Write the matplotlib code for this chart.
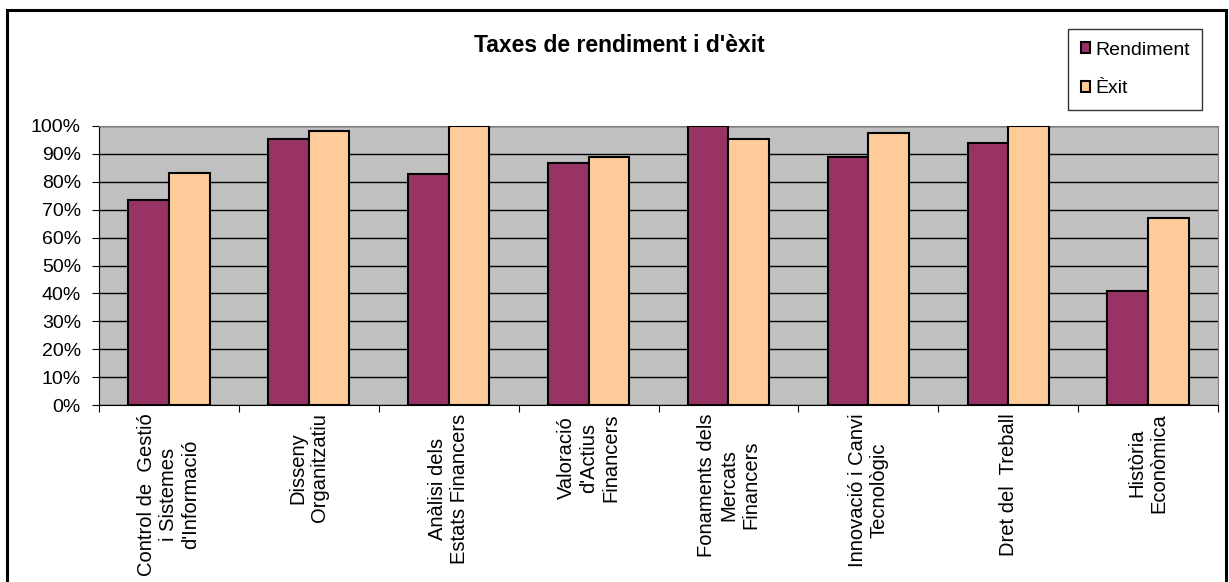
import numpy as np
import matplotlib
matplotlib.use("Agg")
import matplotlib.pyplot as plt
from matplotlib.patches import Rectangle
from matplotlib.ticker import FuncFormatter, MultipleLocator, FixedLocator

plt.rcParams["font.family"] = ["Liberation Sans", "DejaVu Sans"]

categories = [
    "Control de  Gestió\ni Sistemes\nd'Informació",
    "Disseny\nOrganitzatiu",
    "Anàlisi dels\nEstats Financers",
    "Valoració\nd'Actius\nFinancers",
    "Fonaments dels\nMercats\nFinancers",
    "Innovació i Canvi\nTecnològic",
    "Dret del  Treball",
    "Història\nEconòmica",
]
rendiment = [73.4, 95.2, 82.8, 86.6, 100.0, 89.0, 94.0, 41.0]
exit_ = [83.1, 98.3, 100.0, 89.0, 95.4, 97.6, 100.0, 67.0]

W, H = 1229, 582
fig = plt.figure(figsize=(W / 100, H / 100), dpi=100)
ax = fig.add_axes([99 / W, 1 - 405 / H, (1218 - 99) / W, (405 - 126) / H])

x = np.arange(len(categories))
bw = 0.29
ax.bar(x - bw / 2, rendiment, bw, color="#993366", edgecolor="black",
       linewidth=1.5, label="Rendiment", zorder=3)
ax.bar(x + bw / 2, exit_, bw, color="#FFCC99", edgecolor="black",
       linewidth=1.5, label="Èxit", zorder=3)

ax.set_facecolor("#C0C0C0")
ax.set_xlim(-0.5, len(categories) - 0.5)
ax.set_ylim(0, 100)
ax.yaxis.set_major_locator(MultipleLocator(10))
ax.yaxis.set_major_formatter(FuncFormatter(lambda v, p: f"{v:.0f}%"))
ax.grid(axis="y", color="black", linewidth=1.0, zorder=1)
ax.tick_params(axis="y", labelsize=14, length=5, direction="out", pad=8)

# category boundaries as ticks, labels placed manually below
ax.xaxis.set_major_locator(FixedLocator(np.arange(len(categories) + 1) - 0.5))
ax.set_xticklabels([])
ax.tick_params(axis="x", length=5, direction="out")
for i, lab in enumerate(categories):
    ax.text(i, -3.0, lab, rotation=90, ha="center", va="top",
            multialignment="center", fontsize=14.5, transform=ax.transData,
            clip_on=False)

for s in ["top", "right"]:
    ax.spines[s].set_color("#808080")
for s in ["left", "bottom"]:
    ax.spines[s].set_color("black")

fig.text(619 / W, 1 - 46 / H, "Taxes de rendiment i d'èxit", ha="center",
         va="center", fontsize=16.5, fontweight="bold")

leg = fig.legend(loc="upper left", bbox_to_anchor=(1068 / W, 1 - 29 / H),
                 fontsize=14, frameon=True, fancybox=False, edgecolor="black",
                 handlelength=0.5, handleheight=0.5, handletextpad=0.25,
                 labelspacing=1.1, borderpad=0.65, borderaxespad=0)
leg.get_frame().set_linewidth(1.0)

# outer chart border
fig.patches.append(Rectangle((7 / W, -0.1), (1226 - 7) / W, 1.1 - 9.5 / H,
                             transform=fig.transFigure, fill=False,
                             edgecolor="black", linewidth=2.2))

fig.savefig("out.png", dpi=100)
